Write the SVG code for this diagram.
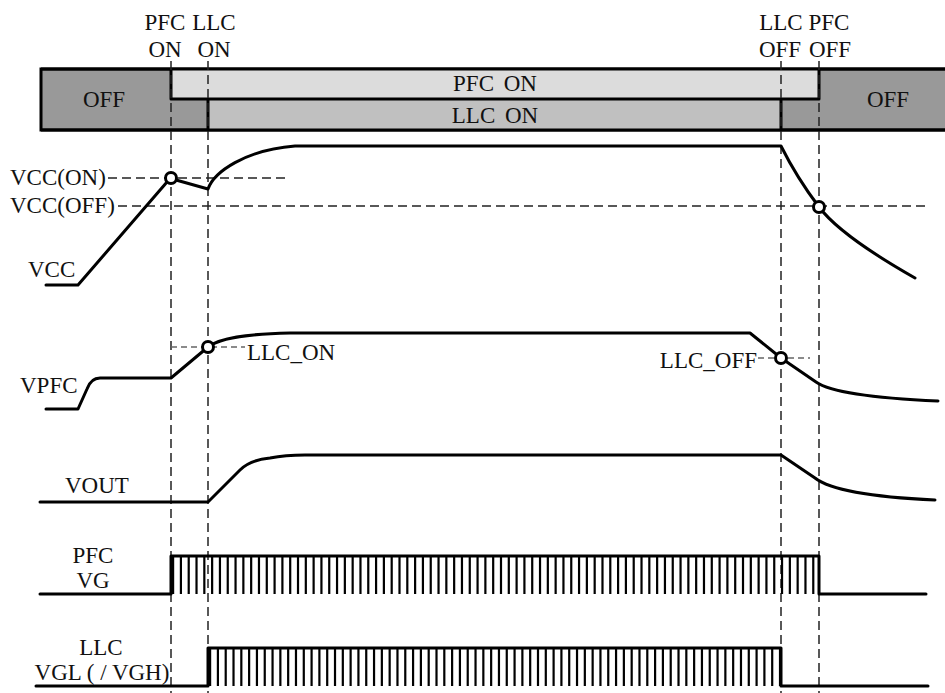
<svg xmlns="http://www.w3.org/2000/svg" width="945" height="693" viewBox="0 0 945 693">
<style>
text{font-family:"Liberation Serif","Times New Roman",serif;font-size:23px;fill:#111}
.m{text-anchor:middle}
.e{text-anchor:end}
.w{fill:none;stroke:#000;stroke-width:3;stroke-linejoin:round;stroke-linecap:round}
.d{fill:none;stroke:#222;stroke-width:1.5;stroke-dasharray:9 5}
.g{fill:none;stroke:#666;stroke-width:1.3;stroke-dasharray:6 4}
.c{fill:#fff;stroke:#000;stroke-width:3}
.b{stroke:#000;stroke-width:3}
.p{fill:none;stroke:#000;stroke-width:38;stroke-dasharray:2.2 5.607}
</style>
<rect width="945" height="693" fill="#fff"/>
<g id="state-bar">
<rect x="41" y="69" width="906" height="61" fill="#999" class="b"/>
<rect x="171" y="69" width="648" height="30" fill="#dcdcdc"/>
<rect x="208" y="99" width="573" height="31" fill="#c0c0c0"/>
<path class="w" d="M171,69 V99 H819 V69 M208,99 V130 M781,99 V130" stroke-linecap="butt"/>
<path class="b" d="M41,69 H947 M41,130 H947" fill="none"/>
<text class="m" x="104" y="107">OFF</text>
<text class="m" x="888" y="107">OFF</text>
<text class="m" x="495" y="91" word-spacing="4">PFC ON</text>
<text class="m" x="495" y="123" word-spacing="4">LLC ON</text>
</g>
<g id="events">
<text class="m" x="165" y="30">PFC</text>
<text class="m" x="165" y="56.5">ON</text>
<text class="m" x="214" y="30">LLC</text>
<text class="m" x="214" y="56.5">ON</text>
<text class="m" x="781" y="30">LLC</text>
<text class="m" x="829" y="30">PFC</text>
<text class="m" x="780" y="56.5">OFF</text>
<text class="m" x="830" y="56.5">OFF</text>
</g>
<g id="guides">
<path class="d" d="M171,61 V693 M208,61 V693 M781,61 V693 M819,61 V693"/>
<path class="d" d="M108,178 H285 M118,206 H930"/>
<path class="g" d="M171,347 H245 M758,358 H810"/>
</g>
<g id="vcc">
<text x="10" y="185">VCC(ON)</text>
<text x="10" y="213">VCC(OFF)</text>
<text x="28" y="277">VCC</text>
<path class="w" d="M46,285 H78 L167,182 M176,180 L208,189 C214,172 245,150 295,146 H781 Q797,178 819,207 T915,278"/>
<circle class="c" cx="171" cy="178" r="5.5"/>
<circle class="c" cx="819" cy="207" r="5.5"/>
</g>
<g id="vpfc">
<text x="20" y="393">VPFC</text>
<text x="247" y="360">LLC_ON</text>
<text class="e" x="757" y="368">LLC_OFF</text>
<path class="w" d="M46,409 H78 L87,389 Q91,378 100,378 H171 L208,347 C220,338 245,334 290,333 H750 L781,358 L816,382 C830,392 870,398 938,401"/>
<circle class="c" cx="208" cy="347" r="5.5"/>
<circle class="c" cx="781" cy="358" r="5.5"/>
</g>
<g id="vout">
<text x="65" y="493">VOUT</text>
<path class="w" d="M40,502 H208 L240,470 Q250,460 270,458 Q285,455 305,455 H781 L815,478 C830,490 870,497 935,500"/>
</g>
<g id="pfc-vg">
<text class="m" x="93" y="563">PFC</text>
<text class="m" x="93" y="588">VG</text>
<path class="p" d="M172,575 H819"/>
<path class="w" d="M40,594 H171 V556 H819 V594 H926"/>
</g>
<g id="llc-vgl">
<text class="m" x="101" y="655">LLC</text>
<text class="m" x="102" y="680">VGL ( / VGH)</text>
<path class="p" d="M209,667 H781" stroke-dasharray="2.2 5.65"/>
<path class="w" d="M36,686 H208 V648 H781 V686 H928"/>
</g>
</svg>
